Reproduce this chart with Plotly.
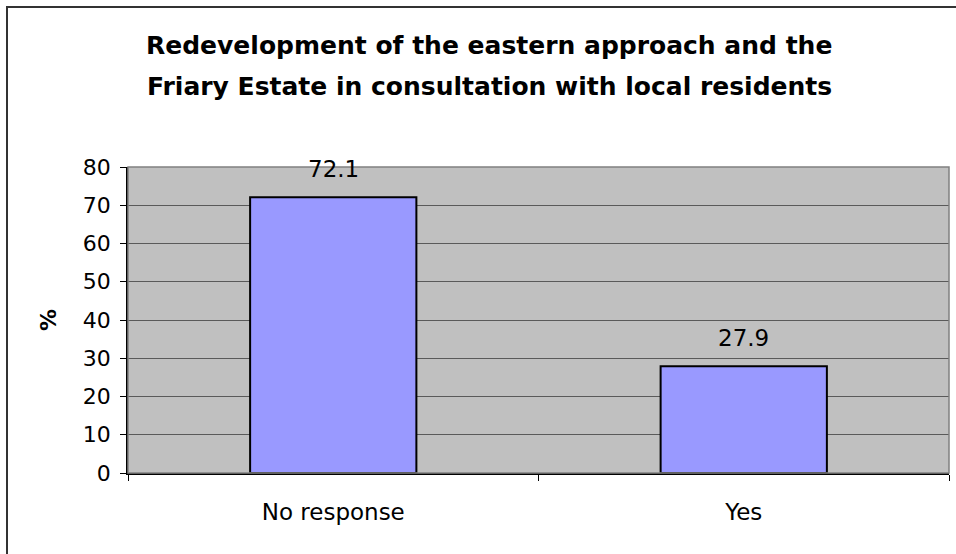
import plotly.graph_objects as go

# Survey result: share of respondents (%)
categories = ["No response", "Yes"]
percentages = [72.1, 27.9]
y_ticks = [0, 10, 20, 30, 40, 50, 60, 70, 80]
title_lines = [
    "Redevelopment of the eastern approach and the",
    "Friary Estate in consultation with local residents",
]
y_title = "%"

FONT = "DejaVu Sans, Liberation Sans, Arial, sans-serif"

fig = go.Figure(
    go.Bar(
        x=categories,
        y=percentages,
        marker=dict(color="#9999FF", line=dict(color="#000000", width=2)),
        hoverinfo="x+y",
    )
)

# value labels above each bar
for cat, val in zip(categories, percentages):
    fig.add_annotation(
        x=cat, y=val, text=f"{val:.1f}", showarrow=False,
        yanchor="middle", yshift=28,
        font=dict(family=FONT, size=23, color="#000000"),
    )

# two-line chart title
for i, line in enumerate(title_lines):
    fig.add_annotation(
        xref="paper", yref="paper",
        x=(489 - 128) / 821, y=(473.5 - (46 + 41 * i)) / 306,
        text=f"<b>{line}</b>", showarrow=False,
        xanchor="center", yanchor="middle",
        font=dict(family=FONT, size=25, color="#000000"),
    )

# plot-area frame and outer chart frame
fig.add_shape(type="rect", xref="paper", yref="paper", x0=0, y0=0, x1=1, y1=1,
              line=dict(color="#808080", width=1.5), layer="above")
fig.add_shape(type="rect", xref="paper", yref="paper",
              x0=(7 - 128) / 821, y0=(473.5 - 570) / 306,
              x1=(975 - 128) / 821, y1=(473.5 - 7.5) / 306,
              line=dict(color="#333333", width=2))

fig.update_layout(
    width=956, height=554,
    margin=dict(l=128, r=7, t=167, b=81),
    paper_bgcolor="#FFFFFF",
    plot_bgcolor="#C0C0C0",
    bargap=0.595,
    showlegend=False,
    font=dict(family=FONT, color="#000000"),
    xaxis=dict(
        type="category",
        tickson="boundaries",
        ticks="outside", ticklen=6, tickcolor="#000000",
        showline=True, linecolor="#000000", linewidth=1.5,
        showgrid=False,
        tickfont=dict(size=23),
        ticklabelstandoff=18,
    ),
    yaxis=dict(
        range=[0, 80],
        tickvals=y_ticks,
        ticks="outside", ticklen=6, tickcolor="#000000",
        showline=True, linecolor="#000000", linewidth=1.5,
        showgrid=True, gridcolor="#5a5a5a", gridwidth=1,
        zeroline=False,
        tickfont=dict(size=22),
        ticklabelstandoff=5,
        title=dict(text=f"<b>{y_title}</b>", font=dict(size=22), standoff=20),
    ),
)

fig.write_html("out.html")
